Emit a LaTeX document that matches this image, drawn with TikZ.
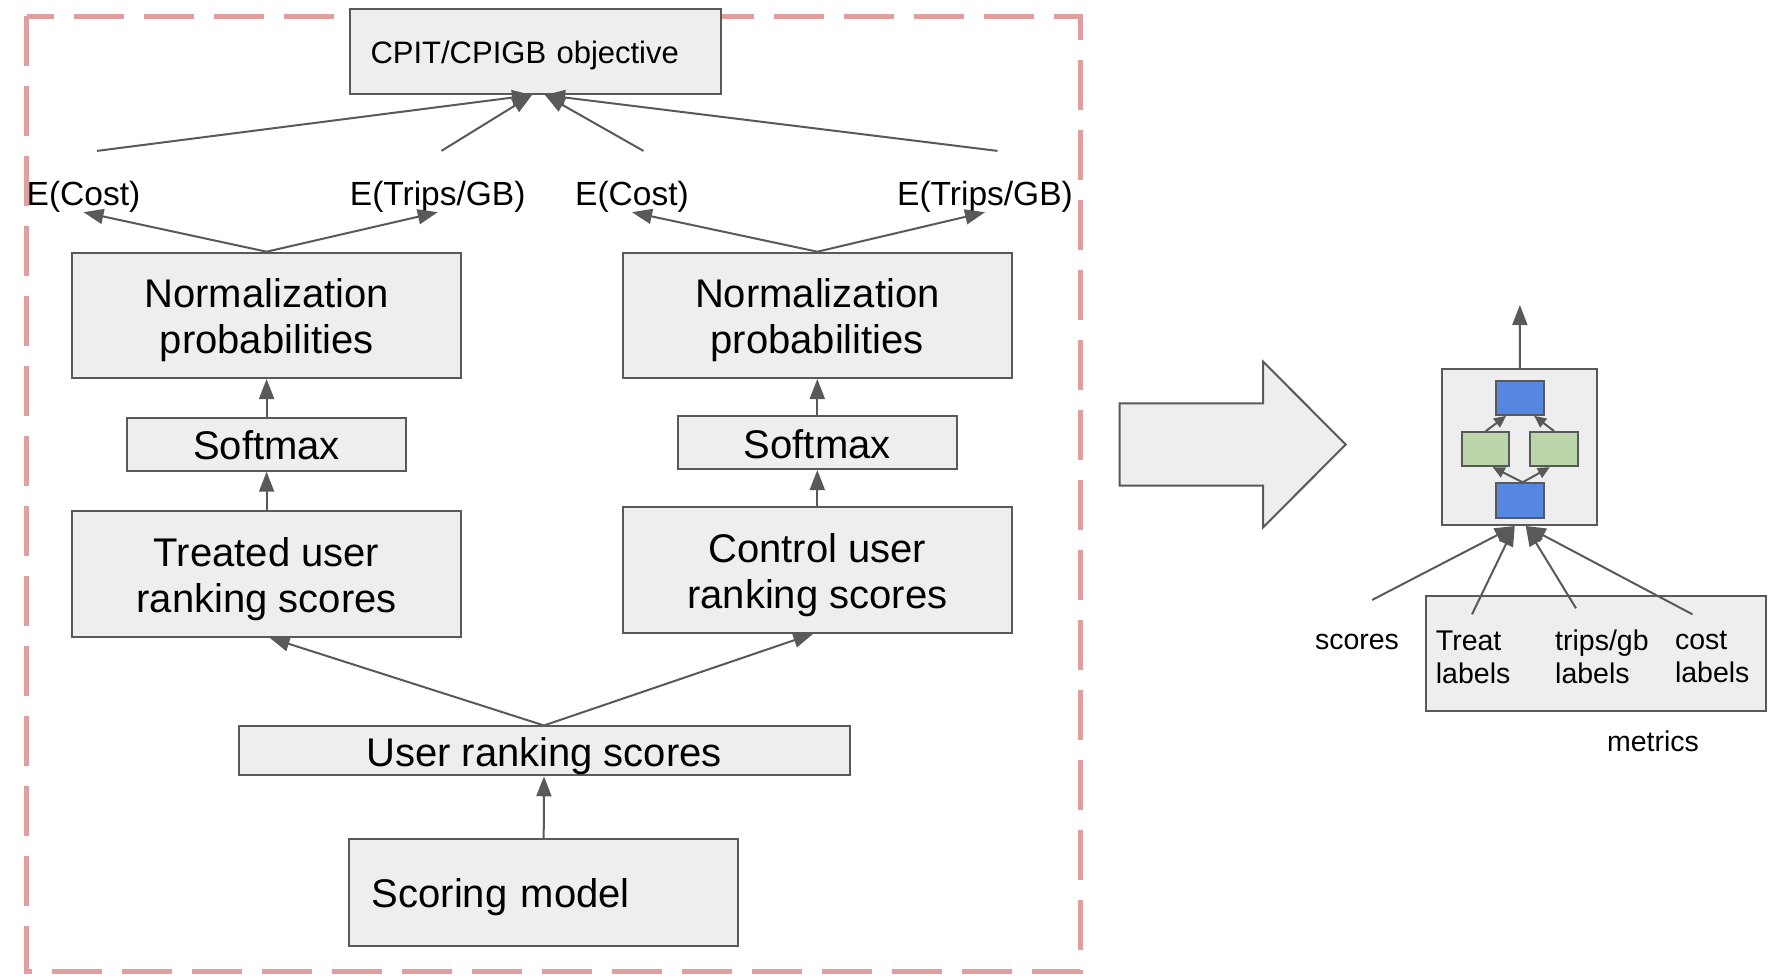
\documentclass[tikz,border=0pt]{standalone}
\usepackage{fontspec}
\setmainfont{Liberation Sans}
\usetikzlibrary{arrows.meta}
\definecolor{boxgray}{HTML}{EEEEEE}
\definecolor{linegray}{HTML}{595959}
\definecolor{framered}{HTML}{E09E9E}
\definecolor{unitblue}{HTML}{5586E0}
\definecolor{unitgreen}{HTML}{BCD6AC}
\newcommand\sizebig{\fontsize{40}{46}\selectfont}
\newcommand\sizelab{\fontsize{33.5}{40}\selectfont}
\newcommand\sizeobj{\fontsize{31}{36}\selectfont}
\newcommand\sizesmall{\fontsize{28.5}{33}\selectfont}
\newcommand\topstrut{\rule{0pt}{1em}}
\newcommand\botstrut{\rule[-0.22em]{0pt}{0.22em}}
\tikzset {>={Triangle[length=20pt,width=15pt]},
  box/.style={draw=linegray,fill=boxgray,line width=2pt,inner sep=0pt,align=center,font=\sizebig},
  arr/.style={draw=linegray,line width=2pt,->},
  smallarr/.style={draw=linegray,line width=2pt,-{Triangle[length=12pt,width=11pt]}},
  unit/.style={draw=linegray,line width=2pt,minimum width=48pt,minimum height=34pt,inner sep=0pt},
  elabel/.style={inner sep=0pt,font=\sizelab},
  smalltext/.style={inner sep=0pt,font=\sizesmall}}

\begin{document}
\begin{tikzpicture}[x=1pt,y=-1pt]
\useasboundingbox (0,0) rectangle (1788,978);
\draw[framered,line width=5pt,dash pattern=on 50pt off 20pt]
  (26.7,16) rectangle (1080.3,971);

\node[box,font=\sizeobj,minimum height=84.7pt,text width=329pt,inner xsep=21pt,align=left]
  (obj) at (535,51.7) {\topstrut CPIT/CPIGB objective\botstrut};

\node[elabel] (ecostT) at (83.5,196.4) {E(Cost)};
\node[elabel] (etripT) at (437.7,196.4) {E(Trips/GB)};
\node[elabel] (ecostC) at (632,196.4) {E(Cost)};
\node[elabel] (etripC) at (985,196.4) {E(Trips/GB)};

\node[box,minimum width=388.6pt,minimum height=125.3pt] (normT) at (266.6,315.35)
  {\topstrut Normalization\\probabilities\botstrut};
\node[box,minimum width=388.6pt,minimum height=125.3pt] (normC) at (817.3,315.35)
  {\topstrut Normalization\\probabilities\botstrut};
\node[box,minimum width=279pt,minimum height=53pt] (softT) at (266.6,444.2) {\topstrut Softmax\botstrut};
\node[box,minimum width=279pt,minimum height=53pt] (softC) at (817.3,442.5) {\topstrut Softmax\botstrut};
\node[box,minimum width=388.6pt,minimum height=125.7pt] (treat) at (266.6,573.85)
  {\topstrut Treated user\\ranking scores\botstrut};
\node[box,minimum width=388.6pt,minimum height=126pt] (control) at (817.3,569.7)
  {\topstrut Control user\\ranking scores\botstrut};
\node[box,minimum width=611pt,minimum height=45.7pt] (user) at (544,750.85)
  {\topstrut User ranking scores\botstrut};
\node[box,minimum height=106.7pt,text width=343.8pt,inner xsep=22.4pt,align=left]
  (scoring) at (543.7,892.35) {\topstrut Scoring model\botstrut};

\draw[arr] (scoring.north) -- (user.south);
\draw[arr] (user.north) -- ([xshift=3pt]treat.south);
\draw[arr] (user.north) -- ([xshift=-4pt]control.south);
\foreach \lo/\hi in {treat/softT,softT/normT,control/softC,softC/normC}
  \draw[arr] (\lo.north) -- (\hi.south);
\foreach \src/\dst in {normT/ecostT,normT/etripT,normC/ecostC,normC/etripC}
  \draw[arr] (\src.north) -- (\dst.south);
\foreach \lab/\dx/\tx in {ecostT/13.5pt/-3pt,etripT/3.7pt/-3pt,ecostC/11.5pt/10pt,etripC/12.5pt/10pt}
  \draw[arr] ([shift={(\dx,29.7pt)}]\lab.north) -- ([xshift=\tx]obj.south);

\draw[draw=linegray,fill=boxgray,line width=2pt]
  (1119.7,403.3) -- (1263.2,403.3) -- (1263.2,361.7) -- (1345.7,444.5) --
  (1263.2,527.3) -- (1263.2,485.7) -- (1119.7,485.7) -- cycle;

\node[box,minimum width=155pt,minimum height=155.7pt] (model) at (1519.75,447.15) {};
\node[unit,fill=unitblue] (outU) at (1520.1,397.85) {};
\node[unit,fill=unitgreen,minimum width=47.4pt] (midL) at (1485.7,449.15) {};
\node[unit,fill=unitgreen] (midR) at (1554.15,449.15) {};
\node[unit,fill=unitblue,minimum height=35pt] (inU) at (1520.1,500.8) {};
\draw[smallarr] (midL.north) -- ([xshift=-14pt]outU.south);
\draw[smallarr] (midR.north) -- ([xshift=14pt]outU.south);
\draw[smallarr] ([xshift=2.5pt]inU.north) -- ([xshift=7pt]midL.south);
\draw[smallarr] ([xshift=2.5pt]inU.north) -- ([xshift=-4.4pt]midR.south);
\coordinate (modelout) at (1519.9,305);
\draw[arr] (model.north) -- (modelout);

\node[box,minimum width=340.4pt,minimum height=114.7pt] (metricsbox) at (1595.8,653.35) {};
\node[smalltext] (scores) at (1357,641.5) {scores};
\node[smalltext,anchor=west,align=left] (treatlab) at (1435.7,657) {Treat\\labels};
\node[smalltext,anchor=west,align=left] (tripslab) at (1555,657) {trips/gb\\labels};
\node[smalltext,anchor=west,align=left] (costlab) at (1674.8,657) {cost\\labels};
\node[smalltext] (metrics) at (1653,741) {metrics};

\coordinate (fromscores) at (1372,600);
\coordinate (fromtreat) at (1472,614.3);
\coordinate (fromtrips) at (1576,608.3);
\coordinate (fromcost) at (1692.4,614.3);
\foreach \src/\dx in {fromscores/-5pt,fromtreat/-5pt,fromtrips/6pt,fromcost/6pt}
  \draw[arr] (\src) -- ([xshift=\dx]model.south);
\end{tikzpicture}
\end{document}
